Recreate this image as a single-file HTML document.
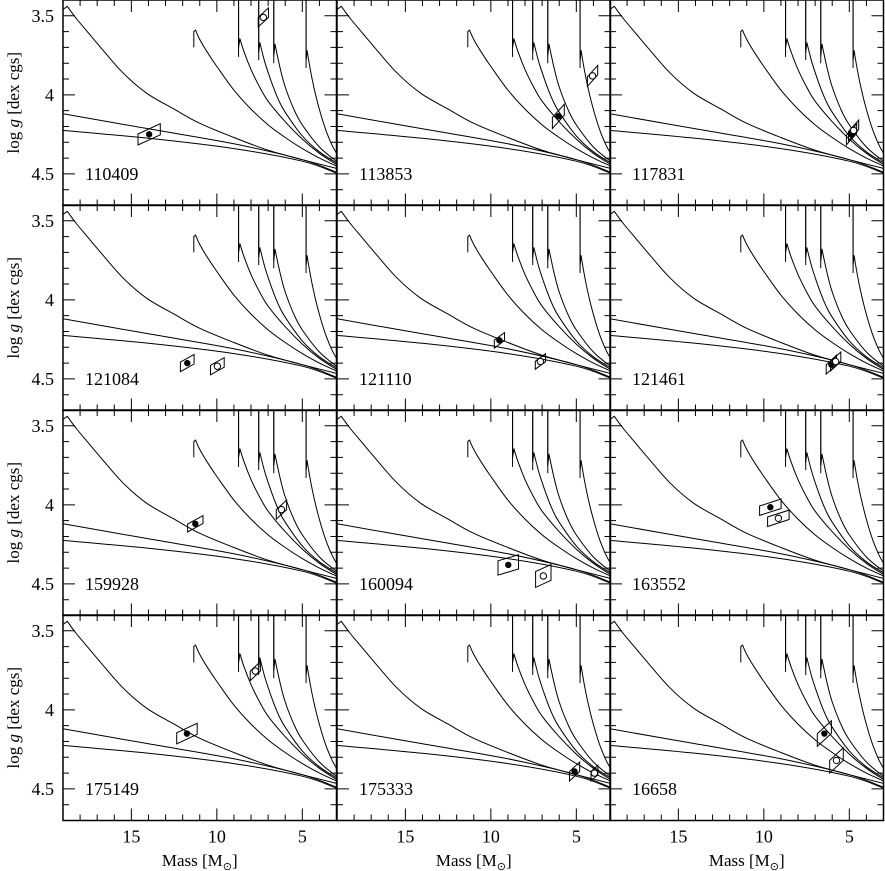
<!DOCTYPE html>
<html><head><meta charset="utf-8"><style>
html,body{margin:0;padding:0;background:#fff;}
svg{display:block;font-family:"Liberation Serif",serif;}
</style></head><body>
<svg id="chart" width="885" height="871" viewBox="0 0 885 871" xmlns="http://www.w3.org/2000/svg"></svg>
<script>
// ---- data ----
const starIds = ["110409","113853","117831","121084","121110","121461","159928","160094","163552","175149","175333","16658"];
const filledMass = [13.96,6.05,4.87,11.73,9.5,6.05,11.26,8.98,9.62,11.75,5.1,6.46];
const filledLogg = [4.25,4.136,4.25,4.40,4.256,4.41,4.12,4.38,4.015,4.15,4.39,4.15];
const openMass = [7.28,4.05,4.75,9.97,7.1,5.8,6.22,6.93,9.15,7.75,3.94,5.75];
const openLogg = [3.51,3.88,4.225,4.42,4.39,4.39,4.03,4.45,4.085,3.755,4.40,4.32];
const filledDm = [0.65,0.35,0.3,0.4,0.3,0.3,0.45,0.6,0.63,0.6,0.3,0.41];
const filledDg = [0.035,0.035,0.03,0.03,0.025,0.03,0.025,0.045,0.03,0.035,0.03,0.04];
const filledSl = [0.05,0.12,0.12,0.06,0.08,0.1,0.06,0.032,0.035,0.05,0.1,0.1];
const openDm = [0.3,0.3,0.3,0.4,0.3,0.3,0.3,0.45,0.63,0.3,0.2,0.4];
const openDg = [0.03,0.03,0.03,0.03,0.025,0.03,0.03,0.05,0.03,0.03,0.03,0.04];
const openSl = [0.1,0.12,0.12,0.06,0.08,0.1,0.1,0.05,0.035,0.1,0.1,0.1];
const trackA = [[19,3.58],[19,3.46],[18.75,3.44],[18.2,3.52],[17.5,3.61],[16.8,3.70],[15.5,3.86],[14.1,3.99],[12.5,4.09],[11,4.18],[9,4.27],[7,4.35],[5,4.41],[3,4.465]];
const trackB = [[11.35,3.70],[11.35,3.60],[11.25,3.59],[11.0,3.65],[10.5,3.74],[10,3.82],[9,3.97],[8,4.09],[7,4.19],[6,4.27],[5,4.34],[4,4.40],[3,4.45]];
const trackC = [[8.73,3.4],[8.73,3.70],[8.65,3.645],[8.4,3.73],[8,3.84],[7.5,3.95],[7,4.04],[6,4.17],[5,4.28],[4,4.37],[3,4.44]];
const trackD = [[7.55,3.4],[7.55,3.73],[7.48,3.67],[7.2,3.79],[6.8,3.92],[6.4,4.03],[6,4.11],[5,4.26],[4,4.36],[3,4.43]];
const trackE = [[6.67,3.4],[6.67,3.75],[6.6,3.68],[6.3,3.83],[6,3.95],[5.5,4.09],[5,4.19],[4,4.33],[3,4.42]];
const trackF = [[4.78,3.4],[4.78,3.78],[4.72,3.72],[4.5,3.86],[4.2,4.01],[3.9,4.13],[3.6,4.23],[3.3,4.31],[3,4.37]];
const trackG = [[19,4.12],[14,4.215],[9,4.31],[5,4.41],[3,4.49]];
const trackH = [[19,4.225],[14,4.275],[9,4.34],[5,4.42],[3,4.495]];
const verticalEnds = [[8.73,3.76],[7.55,3.78],[6.67,3.80],[4.78,3.83]];
const xTicks = [15,10,5];
const yTicks = [3.5,4,4.5];
const xLabels = ["15","10","5"];
const yLabels = ["3.5","4","4.5"];

const NS = "http://www.w3.org/2000/svg";
const svg = document.getElementById('chart');
const colX = [63,337,610], rowY = [0,205,410,615];
const PW = 273.5, PH = 205.5;
const M0 = 19, M1 = 3, G0 = 3.4, G1 = 4.7;
function mk(tag, attrs, parent){const e=document.createElementNS(NS,tag);for(const k in attrs)e.setAttribute(k,attrs[k]);(parent||svg).appendChild(e);return e;}
function smoothPath(P, straightCount){
  let d='M'+P[0][0].toFixed(1)+' '+P[0][1].toFixed(1);
  for(let k=1;k<P.length;k++){
    if(k<=straightCount){d+=' L'+P[k][0].toFixed(1)+' '+P[k][1].toFixed(1);continue;}
    const p0=P[Math.max(k-2,straightCount)], p1=P[k-1], p2=P[k], p3=P[Math.min(k+1,P.length-1)];
    const c1=[p1[0]+(p2[0]-p0[0])/6,p1[1]+(p2[1]-p0[1])/6];
    const c2=[p2[0]-(p3[0]-p1[0])/6,p2[1]-(p3[1]-p1[1])/6];
    d+=` C${c1[0].toFixed(1)} ${c1[1].toFixed(1)} ${c2[0].toFixed(1)} ${c2[1].toFixed(1)} ${p2[0].toFixed(1)} ${p2[1].toFixed(1)}`;
  }
  return d;
}

for (let i=0;i<12;i++){
  const c=i%3, r=Math.floor(i/3);
  const x0=colX[c], y0=rowY[r];
  const xs=m=>x0+(M0-m)*PW/(M0-M1);
  const ys=g=>y0+(g-G0)*PH/(G1-G0);
  const g=mk('g',{});
  
  
  const clipId='clip'+i;
  const cp=mk('clipPath',{id:clipId},g);
  mk('rect',{x:x0,y:y0,width:PW,height:PH},cp);
  const inner=mk('g',{'clip-path':'url(#'+clipId+')'},g);
  const tracks=[trackA,trackB,trackC,trackD,trackE,trackF,trackG,trackH];
  const straight=[2,2,2,2,2,2,0,0];
  tracks.forEach((t,ti)=>{
    const P=t.map(p=>[xs(p[0]),ys(p[1])]);
    const p=mk('path',{d:smoothPath(P,straight[ti]),fill:'none',stroke:'#000','stroke-width':1,'stroke-linejoin':'round'},inner);
    
    
  });
  verticalEnds.forEach(v=>{
    const l=mk('line',{x1:xs(v[0]),y1:ys(G0),x2:xs(v[0]),y2:ys(v[1]),stroke:'#000','stroke-width':1},inner);
    
    
  });
  function box(m,gg,dm,dg,sl,name){
    const pts=[[m+dm,gg-dg+sl*dm],[m-dm,gg-dg-sl*dm],[m-dm,gg+dg-sl*dm],[m+dm,gg+dg+sl*dm]];
    const p=mk('polygon',{points:pts.map(q=>xs(q[0]).toFixed(1)+','+ys(q[1]).toFixed(1)).join(' '),fill:'none',stroke:'#000','stroke-width':1},inner);
    
    
  }
  box(filledMass[i],filledLogg[i],filledDm[i],filledDg[i],filledSl[i],'primary-error-box');
  box(openMass[i],openLogg[i],openDm[i],openDg[i],openSl[i],'secondary-error-box');
  const f=mk('circle',{cx:xs(filledMass[i]),cy:ys(filledLogg[i]),r:3.2,fill:'#000'},inner);
  
  
  const o=mk('circle',{cx:xs(openMass[i]),cy:ys(openLogg[i]),r:3.2,fill:'#fff',stroke:'#000','stroke-width':1},inner);
  
  
  const fr=mk('rect',{x:x0,y:y0,width:PW,height:PH,fill:'none',stroke:'#000','stroke-width':1.5},g);
  
  
  let td='';
  for(let m=4;m<=18;m++){const L=(m%5===0)?12:6;const x=xs(m);td+=`M${x} ${y0}v${L}M${x} ${y0+PH}v${-L}`;}
  for(let k=0;k<=12;k++){const gv=3.4+k*0.1;if(gv<=3.401||gv>=4.699)continue;const L=(Math.abs(gv*2-Math.round(gv*2))<1e-6)?12:6;const y=ys(gv);td+=`M${x0} ${y}h${L}M${x0+PW} ${y}h${-L}`;}
  const tk=mk('path',{d:td,stroke:'#000','stroke-width':1,fill:'none'},g);
  
  
  const lab=mk('text',{x:x0+22,y:ys(4.5)+6,'font-size':18},g);
  lab.textContent=starIds[i];
  
  
  if(c===0){
    yTicks.forEach((v,k)=>{
      const t=mk('text',{x:x0-9,y:ys(v)+6,'font-size':18,'text-anchor':'end'},svg);
      t.textContent=yLabels[k];
      
      
    });
    const yt=mk('text',{x:0,y:0,'font-size':17,'text-anchor':'middle',transform:`translate(19 ${y0+PH/2}) rotate(-90)`},svg);
    yt.innerHTML='log <tspan font-style="italic">g</tspan> [dex cgs]';
    
    
  }
  if(r===3){
    xTicks.forEach((v,k)=>{
      const t=mk('text',{x:xs(v),y:y0+PH+22,'font-size':18,'text-anchor':'middle'},svg);
      t.textContent=xLabels[k];
      
      
    });
    const xt=mk('text',{x:x0+PW/2,y:866,'font-size':17,'text-anchor':'middle'},svg);
    xt.innerHTML='Mass [M<tspan font-size="11" dy="4">⊙</tspan><tspan dy="-4">]</tspan>';
    
    
  }
}
</script>
</body></html>
